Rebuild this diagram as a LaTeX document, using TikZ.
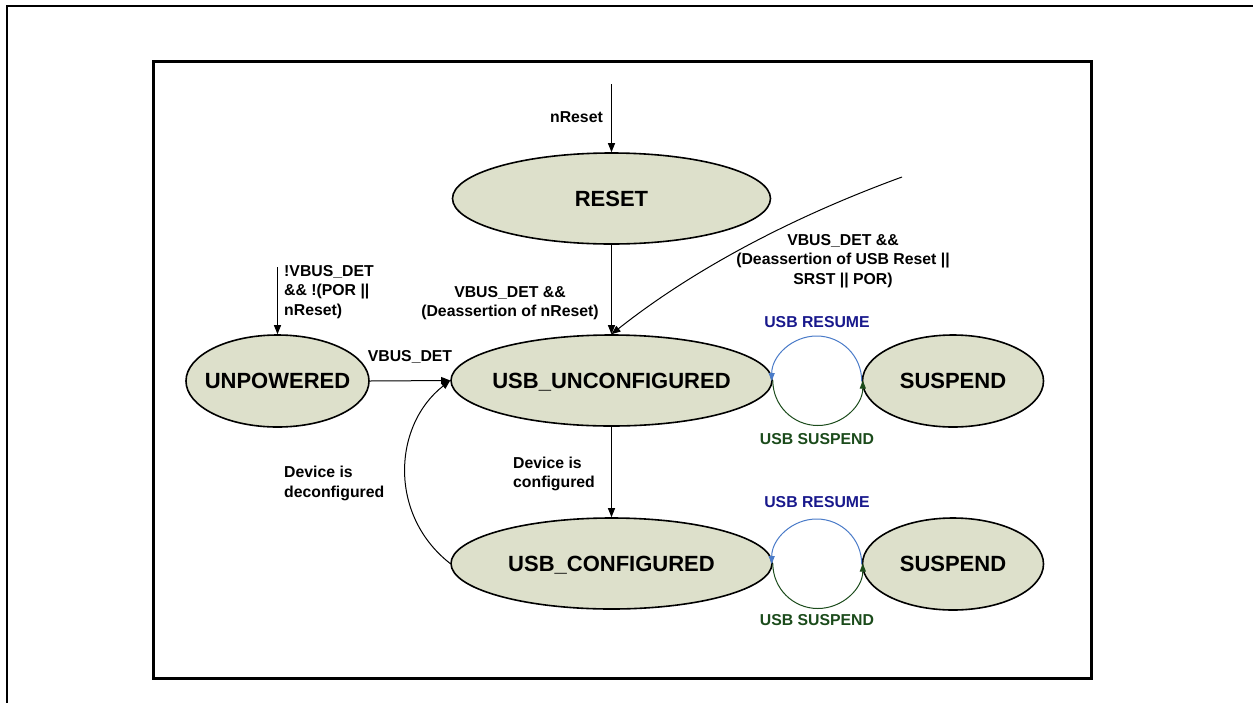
\documentclass[tikz,border=0pt]{standalone}
\usepackage{fontspec}
\setmainfont{Liberation Sans}
\usetikzlibrary{shapes.geometric,arrows.meta}

\definecolor{statefill}{HTML}{DDE0CB}
\definecolor{resumeline}{HTML}{4A7BC8}
\definecolor{resumetext}{HTML}{18188C}
\definecolor{suspendcol}{HTML}{1B4B1B}

\tikzset{
  statenode/.style={ellipse, draw=black, line width=1.6pt, fill=statefill,
    inner sep=0pt, text height=15.8pt, text depth=0pt,
    font=\fontsize{22}{26}\selectfont\bfseries},
  edge/.style={line width=1pt, -{Triangle[length=9pt,width=7pt]}},
  loopedge/.style={line width=1pt, -{Triangle[length=8pt,width=6pt]}},
  cond/.style={font=\fontsize{15.8}{19.5}\selectfont\bfseries, inner sep=0pt},
}

\begin{document}
\begin{tikzpicture}[x=1pt,y=-1pt]
\useasboundingbox (0,0) rectangle (1253,702);

% page frame and diagram border
\draw[line width=2pt] (7,703) -- (7,6) -- (1254,6);
\draw[line width=3pt] (153,61) rectangle (1091,678);

% states
\node[statenode, minimum width=318pt, minimum height=91pt] (reset) at (611.5,198.5) {\makebox[0pt]{RESET}};
\node[statenode, minimum width=321pt, minimum height=91pt] (uu) at (611.5,380.5) {\makebox[0pt]{USB\_UNCONFIGURED}};
\node[statenode, minimum width=321pt, minimum height=91pt] (uc) at (611.5,563.5) {\makebox[0pt]{USB\_CONFIGURED}};
\node[statenode, minimum width=183pt, minimum height=92pt] (unp) at (277.5,381) {\makebox[0pt]{UNPOWERED}};
\node[statenode, minimum width=181pt, minimum height=92pt] (sus1) at (953,381) {\makebox[0pt]{SUSPEND}};
\node[statenode, minimum width=181pt, minimum height=92pt] (sus2) at (953,564) {\makebox[0pt]{SUSPEND}};

% free ends of incoming transitions
\coordinate (rstin) at (611.5,84);
\coordinate (unpin) at (277.5,267);
\coordinate (usbrstin) at (902,177);

% transitions
\draw[edge] (rstin) -- (reset.north);
\draw[edge] (reset.south) -- (uu.north);
\draw[edge] (usbrstin) .. controls (787,219) and (690,272) .. (uu.north);
\draw[edge] (unpin) -- (unp.north);
\draw[edge] (unp.east) -- (uu.west);
\draw[edge] (uu.south) -- (uc.north);
\draw[edge] (uc.west) .. controls (388,515) and (393,425) .. (uu.west);

% suspend / resume loops
\draw[loopedge, resumeline] (sus1.west) arc[start angle=0, end angle=-180, radius=45];
\draw[loopedge, suspendcol] (uu.east) arc[start angle=180, end angle=0, radius=45];
\draw[loopedge, resumeline] (sus2.west) arc[start angle=0, end angle=-180, radius=45];
\draw[loopedge, suspendcol] (uc.east) arc[start angle=180, end angle=0, radius=45];

% transition labels
\node[cond, anchor=east] (lnreset) at (603,117) {nReset};
\node[cond, align=center] (lrst) at (510,303) {VBUS\_DET \&\&\\(Deassertion of nReset)};
\node[cond, align=center] (lusbrst) at (843,261) {VBUS\_DET \&\&\\(Deassertion of USB Reset ||\\SRST || POR)};
\node[cond, align=left, anchor=west] (lunp) at (284,292) {!VBUS\_DET\\\&\& !(POR ||\\nReset)};
\node[cond] (lvbus) at (410,357) {VBUS\_DET};
\node[cond, align=left, anchor=west] (lcfg) at (513,474) {Device is\\configured};
\node[cond, align=left, anchor=west] (ldecfg) at (284,483.5) {Device is\\deconfigured};

\node[cond, text=resumetext] (lres1) at (817,322.5) {USB RESUME};
\node[cond, text=suspendcol] (lsus1) at (817,439) {USB SUSPEND};
\node[cond, text=resumetext] (lres2) at (817,502.5) {USB RESUME};
\node[cond, text=suspendcol] (lsus2) at (817,620) {USB SUSPEND};
\end{tikzpicture}
\end{document}
